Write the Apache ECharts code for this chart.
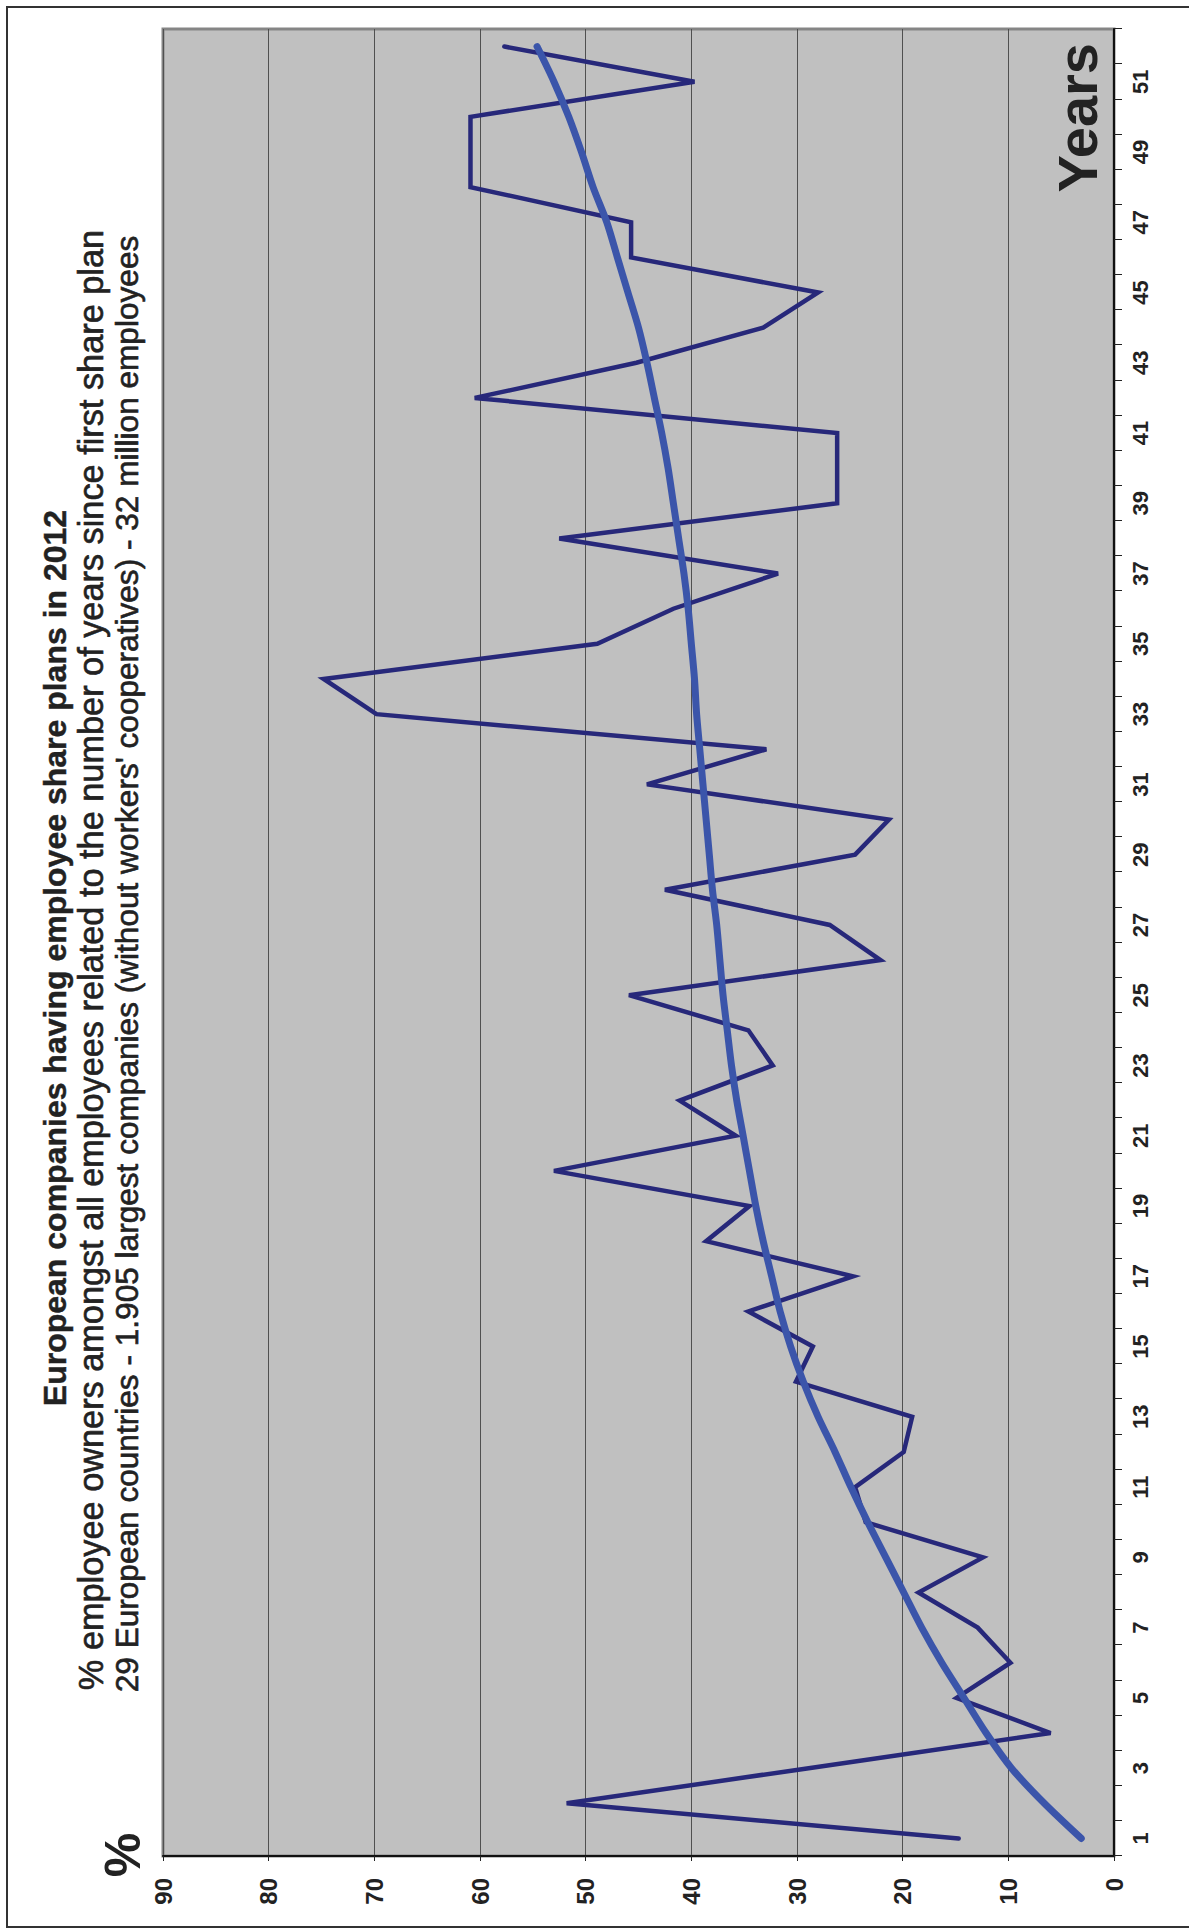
<!DOCTYPE html>
<html>
<head>
<meta charset="utf-8">
<script src="https://cdn.jsdelivr.net/npm/echarts@6/dist/echarts.min.js"></script>
<style>
html, body { margin: 0; padding: 0; background: #fff; overflow: hidden; }
#wrap { position: absolute; left: 0; top: 0; width: 1189px; height: 1930px; overflow: hidden; }
#chart { position: absolute; left: 0; top: 0; width: 1930px; height: 1189px;
  transform-origin: 0 0; transform: translate(0, 1930px) rotate(-90deg); }
</style>
</head>
<body>
<div id="wrap"><div id="chart"></div></div>
<script>
// ---- data ----
var years = ['1','2','3','4','5','6','7','8','9','10','11','12','13','14','15','16','17','18','19','20',
  '21','22','23','24','25','26','27','28','29','30','31','32','33','34','35','36','37','38','39','40',
  '41','42','43','44','45','46','47','48','49','50','51','52'];
var shareOwners = [14.7, 51.8, 28.9, 6.0, 14.9, 9.8, 12.9, 18.5, 12.4, 23.5,
  24.5, 19.9, 19.1, 30.1, 28.5, 34.6, 24.7, 38.6, 34.5, 53.0,
  35.8, 41.1, 32.3, 34.6, 45.9, 22.1, 26.9, 42.5, 24.5, 21.3,
  44.2, 32.9, 69.8, 74.8, 48.9, 41.7, 31.8, 52.5, 26.2, 26.2,
  26.2, 60.5, 45.2, 33.2, 28.0, 45.7, 45.7, 60.9, 60.9, 60.9,
  39.7, 57.7];
var trendValues = [3.1, 6.6, 9.7, 12.1, 14.2, 16.3, 18.2, 19.9, 21.6, 23.3,
  24.9, 26.4, 28.0, 29.4, 30.6, 31.6, 32.4, 33.2, 33.9, 34.5,
  35.1, 35.7, 36.2, 36.6, 37.0, 37.3, 37.6, 38.0, 38.3, 38.6,
  38.9, 39.2, 39.5, 39.7, 40.0, 40.3, 40.7, 41.2, 41.7, 42.2,
  42.8, 43.5, 44.2, 45.0, 46.0, 47.0, 48.0, 49.3, 50.4, 51.6,
  53.0, 54.6];
var titleLines = [
  'European companies having employee share plans in 2012',
  '% employee owners amongst all employees related to the number of years since first share plan',
  "29 European countries - 1.905 largest companies (without workers' cooperatives) - 32 million employees"
];
var xName = 'Years';
var yName = '%';

// ---- chart (drawn unrotated, then the container is turned 90° counter-clockwise) ----
var FF = '"Liberation Sans", Arial, Helvetica, sans-serif';
var chart = echarts.init(document.getElementById('chart'), null, { renderer: 'svg', width: 1930, height: 1189 });
chart.setOption({
  animation: false,
  backgroundColor: '#ffffff',
  grid: { left: 74, right: 29, top: 163, bottom: 75, show: true,
    backgroundColor: '#c0c0c0', borderColor: '#858585', borderWidth: 3 },
  xAxis: {
    type: 'category', data: years, boundaryGap: true,
    axisLine: { show: true, lineStyle: { color: '#111', width: 2 } },
    axisTick: { show: true, interval: 0, length: 8, lineStyle: { color: '#222', width: 1 } },
    axisLabel: { interval: 1, fontSize: 22, fontWeight: 'bold', color: '#222', margin: 15, fontFamily: FF },
    splitLine: { show: false }
  },
  yAxis: {
    type: 'value', min: 0, max: 90, interval: 10,
    axisLine: { show: true, lineStyle: { color: '#111', width: 2 } },
    axisTick: { show: true, length: 5, lineStyle: { color: '#222', width: 1 } },
    axisLabel: { fontSize: 24, fontWeight: 'bold', color: '#222', margin: 22, fontFamily: FF },
    splitLine: { show: true, lineStyle: { color: '#505050', width: 1 } }
  },
  series: [
    { type: 'line', data: shareOwners, symbol: 'none',
      lineStyle: { color: '#27287a', width: 4.5, join: 'miter', cap: 'round' }, z: 2 },
    { type: 'line', data: trendValues, symbol: 'none', smooth: 0.3,
      lineStyle: { color: '#3b55aa', width: 7, cap: 'round' }, z: 3 }
  ],
  graphic: [
    { type: 'rect', shape: { x: 3, y: 7, width: 1920, height: 1300 }, silent: true,
      style: { fill: 'none', stroke: '#333', lineWidth: 2 } },
    { type: 'text', x: 972, y: 55, silent: true,
      style: { text: titleLines[0], font: 'bold 32px ' + FF, fill: '#222', stroke: '#222', lineWidth: 0.4,
        textAlign: 'center', textVerticalAlign: 'middle' } },
    { type: 'text', x: 970, y: 91, silent: true,
      style: { text: titleLines[1], font: '34.3px ' + FF, fill: '#222', stroke: '#222', lineWidth: 0.6,
        textAlign: 'center', textVerticalAlign: 'middle' } },
    { type: 'text', x: 966, y: 127, silent: true,
      style: { text: titleLines[2], font: '31.6px ' + FF, fill: '#222', stroke: '#222', lineWidth: 0.6,
        textAlign: 'center', textVerticalAlign: 'middle' } },
    { type: 'text', x: 1887, y: 1077, silent: true, z: 10,
      style: { text: xName, font: 'bold 56px ' + FF, fill: '#222', textAlign: 'right', textVerticalAlign: 'middle' } },
    { type: 'text', x: 75, y: 123, silent: true,
      style: { text: yName, font: 'bold 50px ' + FF, fill: '#222', textAlign: 'center', textVerticalAlign: 'middle' } }
  ]
});
</script>
</body>
</html>
